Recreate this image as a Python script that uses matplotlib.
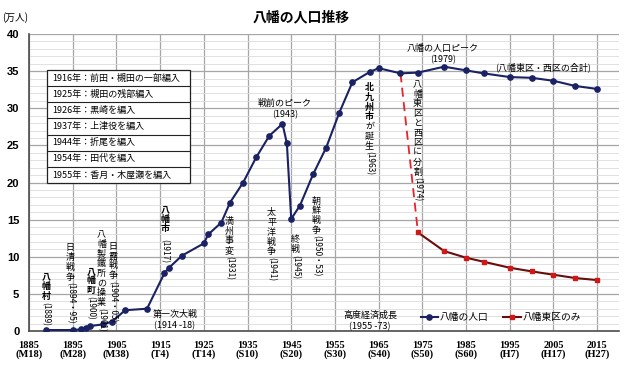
import matplotlib.pyplot as plt
from matplotlib.patches import Rectangle
from matplotlib.ticker import MultipleLocator

plt.rcParams['font.family'] = ['Noto Sans CJK JP', 'DejaVu Sans']

# 八幡の人口（万人）
years = [1889, 1895, 1897, 1898, 1899, 1902, 1904, 1907, 1912, 1916, 1917, 1920,
         1925, 1926, 1929, 1931, 1934, 1937, 1940, 1943, 1944, 1945, 1947, 1950,
         1953, 1956, 1959, 1963, 1965, 1970, 1974, 1980, 1985, 1989, 1995, 2000,
         2005, 2010, 2015]
pop = [0.13, 0.13, 0.22, 0.45, 0.67, 0.9, 1.26, 2.8, 3.0, 7.8, 8.5, 10.15,
       11.8, 13.0, 14.6, 17.3, 20.0, 23.4, 26.3, 27.9, 25.3, 15.1, 16.9, 21.1,
       24.7, 29.4, 33.5, 34.9, 35.4, 34.7, 34.8, 35.6, 35.1, 34.7, 34.2, 34.1,
       33.7, 33.0, 32.6]

# 八幡東区のみ
east_years = [1974, 1980, 1985, 1989, 1995, 2000, 2005, 2010, 2015]
east_pop = [13.27, 10.76, 9.87, 9.33, 8.52, 8.03, 7.58, 7.13, 6.86]

# 分割時の破線
split_years = [1970, 1974]
split_pop = [34.7, 13.27]

tick_years = list(range(1885, 2016, 10))
era_labels = ['M18', 'M28', 'M38', 'T4', 'T14', 'S10', 'S20', 'S30', 'S40',
              'S50', 'S60', 'H7', 'H17', 'H27']

merge_notes = ['1916年：前田・槻田の一部編入', '1925年：槻田の残部編入',
               '1926年：黒崎を編入', '1937年：上津役を編入', '1944年：折尾を編入',
               '1954年：田代を編入', '1955年：香月・木屋瀬を編入']

# 縦書きの注記: x, 上端y, 漢字部分, 太字の文字数, 年, 間隔
events = [
    (1888.9, 7.9, '八幡村', 3, '(1889)', 0),
    (1894.4, 11.8, '日清戦争', 0, '(1894・95)', 0),
    (1899.2, 8.66, '八幡町', 3, '(1900)', 0),
    (1901.6, 13.6, '八幡製鐵所の操業', 0, '(1901)', 0),
    (1904.2, 12.0, '日露戦争', 0, '(1904・05)', 0),
    (1916.1, 17.0, '八幡市', 3, '(1917)', 4),
    (1930.8, 15.4, '満州事変', 0, '(1931)', 0),
    (1940.5, 16.5, '太平洋戦争', 0, '(1941)', 0),
    (1946.0, 12.9, '終戦', 0, '(1945)', 0),
    (1950.8, 18.1, '朝鮮戦争', 0, '(1950・53)', 0),
    (1962.9, 33.4, '北九州市が誕生', 4, '(1963)', 0),
    (1973.9, 33.8, '八幡東区と西区に分割', 0, '(1974)', 0),
]

fig = plt.figure(figsize=(6.32, 3.68), dpi=100)
ax = fig.add_axes([29 / 632, 1 - 331 / 368, 590 / 632, 297 / 368])

ax.set_xlim(1885, 2020)
ax.set_ylim(0, 40)

ax.set_xticks(tick_years)
ax.set_xticklabels([f'{y}\n({e})' for y, e in zip(tick_years, era_labels)],
                   fontfamily='Liberation Serif', fontweight='bold', fontsize=7.5,
                   linespacing=1.0)
ax.set_yticks(range(0, 41, 5))
ax.set_yticklabels([str(v) for v in range(0, 41, 5)],
                   fontfamily='Liberation Sans', fontweight='bold', fontsize=8)
ax.yaxis.set_minor_locator(MultipleLocator(1))
ax.tick_params(which='both', length=0)
ax.tick_params(axis='x', pad=7)
ax.tick_params(axis='y', pad=7)

ax.grid(axis='x', which='major', color='#a6a6a6', lw=0.9)
ax.grid(axis='y', which='major', color='#a6a6a6', lw=0.9)
ax.grid(axis='y', which='minor', color='#dcdcdc', lw=0.6)
ax.set_axisbelow(True)
for s in ['top', 'right']:
    ax.spines[s].set_visible(False)
for s in ['left', 'bottom']:
    ax.spines[s].set_color('#4d4d4d')
    ax.spines[s].set_linewidth(1.2)

ax.plot(years, pop, color='#1b2263', lw=1.5, marker='o', ms=3.8,
        label='八幡の人口', zorder=4)
ax.plot(split_years, split_pop, color='#e8222c', lw=1.3, ls=(0, (5, 3)), zorder=3)
ax.plot(east_years, east_pop, color='#6a0d0d', lw=1.5, marker='s', ms=3.5,
        mfc='#d01818', mec='#d01818', label='八幡東区のみ', zorder=4)

ax.legend(loc='center', bbox_to_anchor=(0.80, 0.047), ncol=2, frameon=False,
          fontsize=7, handlelength=1.8, handletextpad=0.2, columnspacing=1.5)

# 編入の表
x0, x1, y0, y1 = 1889.1, 1921.8, 19.93, 35.15
row_h = (y1 - y0) / len(merge_notes)
ax.add_patch(Rectangle((x0, y0), x1 - x0, y1 - y0, fc='white', ec='#222222',
                       lw=0.9, zorder=2))
for i, note in enumerate(merge_notes):
    yc = y1 - (i + 0.5) * row_h
    if i > 0:
        ax.plot([x0, x1], [y1 - i * row_h] * 2, color='#222222', lw=0.8, zorder=2.5)
    ax.text(x0 + 1.2, yc, note, fontsize=6.5, va='center', ha='left', zorder=3)

# 縦書き注記
size = 6.5
step = 7
for x, y, head, nbold, yr, gap in events:
    for i, ch in enumerate(head):
        ax.annotate(ch, (x, y), xytext=(0, -i * step), textcoords='offset points',
                    ha='center', va='top', fontsize=size,
                    fontweight='bold' if i < nbold else 'normal', zorder=5)
    ax.annotate(yr, (x, y), xytext=(0, -len(head) * step - gap),
                textcoords='offset points', rotation=270, ha='center', va='top',
                fontsize=6, zorder=5)

# 横書き注記
ax.text(1943.6, 29.9, '戦前のピーク\n(1943)', fontsize=6.5, ha='center', va='center',
        linespacing=1.3)
ax.text(1979.7, 37.3, '八幡の人口ピーク\n(1979)', fontsize=6.5, ha='center',
        va='center', linespacing=1.3)
ax.text(2002.6, 35.55, '(八幡東区・西区の合計)', fontsize=6.5, ha='center', va='center')
ax.text(1963.0, 1.35, '高度経済成長\n(1955 -73)', fontsize=6.5, ha='center',
        va='center', linespacing=1.3)
ax.text(1918.4, 1.5, '第一次大戦\n(1914 -18)', fontsize=6.5, ha='center', va='center',
        linespacing=1.3)

fig.text(301 / 632, 1 - 17 / 368, '八幡の人口推移', fontsize=10, fontweight='bold',
         ha='center', va='center')
fig.text(15 / 632, 1 - 18 / 368, '(万人)', fontsize=7, ha='center', va='center')

fig.savefig('out.png', dpi=100)
